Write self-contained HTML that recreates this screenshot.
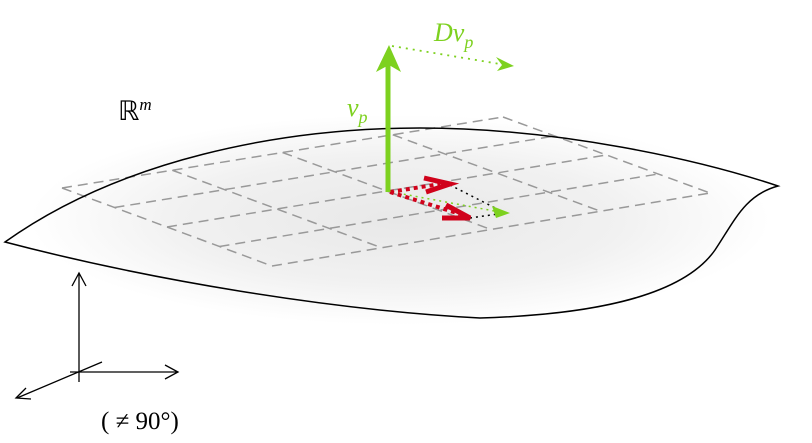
<!DOCTYPE html>
<html><head><meta charset="utf-8"><style>
html,body{margin:0;padding:0;background:#fff;width:812px;height:443px;overflow:hidden}
svg{display:block}
text{font-family:"Liberation Serif",serif}
</style></head><body>
<svg width="812" height="443" viewBox="0 0 812 443">
<defs>
<radialGradient id="sh" cx="0.5" cy="0.5" r="0.5">
<stop offset="0" stop-color="#e8e8e8"/><stop offset="0.6" stop-color="#f1f1f1"/><stop offset="1" stop-color="#ffffff"/>
</radialGradient>
</defs>
<ellipse cx="400" cy="220" rx="370" ry="105" fill="url(#sh)"/>
<g id="grid" stroke="#999" stroke-width="1.5" stroke-dasharray="10,6" fill="none"></g>
<path d="M5,242 C120,160 280,128 420,128 C560,128 700,160 778,186 C745,195 735,220 715,250 C680,300 580,315 480,318 C330,310 150,280 5,242 Z" fill="none" stroke="#000" stroke-width="1.5"/>
<g>
<line x1="392" y1="192" x2="505" y2="213" stroke="#7dd11f" stroke-width="1.5" stroke-dasharray="2,4"/>
<line x1="450" y1="185" x2="505" y2="213" stroke="#000" stroke-width="1.5" stroke-dasharray="2,4"/>
<line x1="470" y1="218" x2="505" y2="213" stroke="#000" stroke-width="1.5" stroke-dasharray="2,4"/>
<path d="M492,206 L510,213 L496,218 Z" fill="#7dd11f"/>
<line x1="390" y1="192" x2="440" y2="184" stroke="#d0021b" stroke-width="4" stroke-dasharray="4,4"/>
<line x1="390" y1="192" x2="460" y2="214" stroke="#d0021b" stroke-width="4" stroke-dasharray="4,4"/>
<path d="M424,178 L450,184 L426,192" fill="none" stroke="#d0021b" stroke-width="5"/>
<path d="M446,205 L470,218 L442,218" fill="none" stroke="#d0021b" stroke-width="5"/>
</g>
<g>
<line x1="388" y1="192" x2="388" y2="62" stroke="#7dd11f" stroke-width="5"/>
<path d="M376,72 L389,45 L401,72 L389,65 Z" fill="#7dd11f"/>
<line x1="392" y1="46" x2="500" y2="64" stroke="#7dd11f" stroke-width="1.8" stroke-dasharray="2,5"/>
<path d="M496,57 L514,66 L497,71 L502,65 Z" fill="#7dd11f"/>
</g>
<text x="347" y="116" font-size="26" font-style="italic" fill="#7dd11f">ν<tspan font-size="18" dy="7">p</tspan></text>
<text x="434" y="41" font-size="26" font-style="italic" fill="#7dd11f">Dν<tspan font-size="18" dy="7">p</tspan></text>
<text x="118" y="120" font-size="27" fill="#000">ℝ<tspan font-size="17" font-style="italic" dy="-10">m</tspan></text>
<g stroke="#000" stroke-width="1.3" fill="none">
<line x1="79" y1="382" x2="79" y2="274"/><path d="M72,286 L79,273 L86,286"/>
<line x1="70" y1="372" x2="177" y2="372"/><path d="M165,365 L178,372 L165,379"/>
<line x1="102" y1="362" x2="17" y2="398"/><path d="M26,388 L16,398 L31,399"/>
</g>
<text x="101" y="429" font-size="25" fill="#000">( ≠ 90°)</text>
</svg>
<script>
const g=document.getElementById('grid');
const A=[62,188],B=[503,117],C=[710,193],D=[272,266];
function P(u,v){return[A[0]+(B[0]-A[0])*u+(D[0]-A[0])*v+(A[0]-B[0]+C[0]-D[0])*u*v,A[1]+(B[1]-A[1])*u+(D[1]-A[1])*v+(A[1]-B[1]+C[1]-D[1])*u*v];}
for(let i=0;i<=4;i++){
 const t=i/4;
 [[P(0,t),P(1,t)],[P(t,0),P(t,1)]].forEach(s=>{
  const l=document.createElementNS('http://www.w3.org/2000/svg','line');
  l.setAttribute('x1',s[0][0]);l.setAttribute('y1',s[0][1]);l.setAttribute('x2',s[1][0]);l.setAttribute('y2',s[1][1]);
  
  
  g.appendChild(l);
 });
}
</script>
</body></html>
